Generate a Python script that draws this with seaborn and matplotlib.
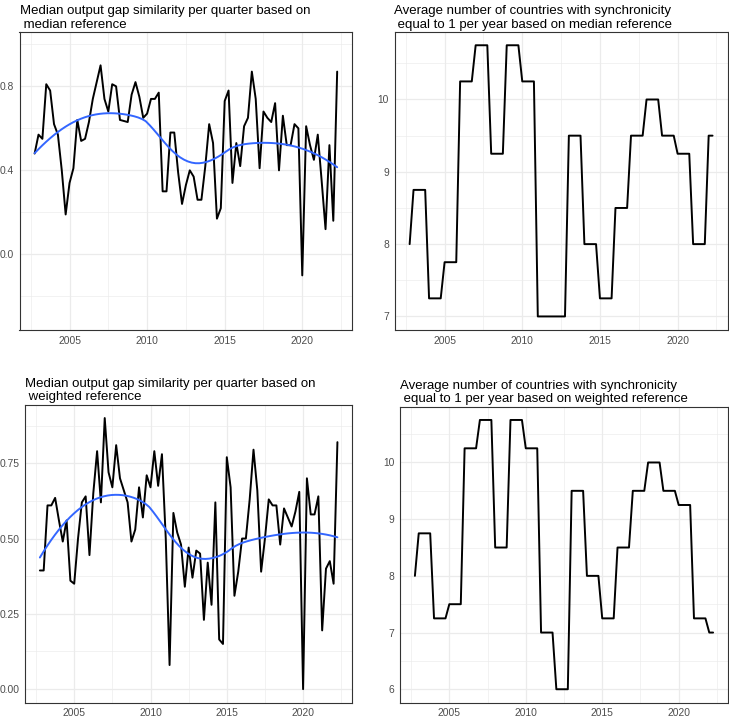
import numpy as np
import pandas as pd
import matplotlib
matplotlib.use("Agg")
import matplotlib.pyplot as plt
import seaborn as sns
from matplotlib.ticker import FormatStrFormatter

# quarterly data, 2002Q4 .. 2022Q2
quarters = pd.period_range("2002Q4", "2022Q2", freq="Q")
t = np.asarray(quarters.year + (quarters.quarter - 1) / 4, dtype=float)

og_median = [0.48, 0.57, 0.55, 0.81, 0.78, 0.62, 0.57, 0.40, 0.19, 0.34,
             0.41, 0.64, 0.54, 0.55, 0.63, 0.74, 0.82, 0.90, 0.74, 0.68,
             0.81, 0.80, 0.64, 0.635, 0.63, 0.76, 0.82, 0.75, 0.65, 0.67,
             0.74, 0.74, 0.77, 0.30, 0.30, 0.58, 0.58, 0.39, 0.24, 0.33,
             0.40, 0.37, 0.26, 0.26, 0.42, 0.62, 0.53, 0.17, 0.22, 0.73,
             0.78, 0.34, 0.53, 0.42, 0.61, 0.65, 0.87, 0.74, 0.41, 0.68,
             0.65, 0.63, 0.72, 0.40, 0.66, 0.52, 0.52, 0.62, 0.60, -0.10,
             0.61, 0.52, 0.45, 0.57, 0.35, 0.12, 0.52, 0.16, 0.87]

og_weighted = [0.394, 0.394, 0.61, 0.61, 0.635, 0.56, 0.49, 0.56, 0.36, 0.35,
               0.50, 0.62, 0.64, 0.445, 0.65, 0.79, 0.62, 0.90, 0.72, 0.67,
               0.81, 0.70, 0.66, 0.62, 0.49, 0.53, 0.67, 0.57, 0.71, 0.67,
               0.79, 0.675, 0.78, 0.50, 0.08, 0.585, 0.52, 0.48, 0.34, 0.47,
               0.37, 0.46, 0.45, 0.23, 0.42, 0.28, 0.62, 0.165, 0.15, 0.77,
               0.67, 0.31, 0.39, 0.50, 0.50, 0.63, 0.795, 0.66, 0.39, 0.50,
               0.63, 0.61, 0.61, 0.48, 0.60, 0.57, 0.54, 0.59, 0.655, 0.00,
               0.70, 0.58, 0.58, 0.64, 0.195, 0.40, 0.425, 0.35, 0.82]

# yearly averages (repeated for every quarter of the year)
years = list(range(2002, 2023))
sync_median = [8.0, 8.75, 7.25, 7.75, 10.25, 10.75, 9.25, 10.75, 10.25, 7.0, 7.0,
               9.5, 8.0, 7.25, 8.5, 9.5, 10.0, 9.5, 9.25, 8.0, 9.5]
sync_weighted = [8.0, 8.75, 7.25, 7.5, 10.25, 10.75, 8.5, 10.75, 10.25, 7.0, 6.0,
                 9.5, 8.0, 7.25, 8.5, 9.5, 10.0, 9.5, 9.25, 7.25, 7.0]

titles = ["Median output gap similarity per quarter based on\n median reference",
          "Average number of countries with synchronicity\n equal to 1 per year based on median reference",
          "Median output gap similarity per quarter based on\n weighted reference",
          "Average number of countries with synchronicity\n equal to 1 per year based on weighted reference"]


def loess(x, y, span=0.75, n_out=80):
    # local quadratic fit with tricube weights (like geom_smooth default)
    x = np.asarray(x, float)
    y = np.asarray(y, float)
    q = int(np.floor(len(x) * span))
    xs = np.linspace(x.min(), x.max(), n_out)
    ys = []
    for x0 in xs:
        d = np.abs(x - x0)
        h = np.sort(d)[q - 1]
        w = np.clip(1 - (d / h) ** 3, 0, None) ** 3
        X = np.vander(x - x0, 3)
        sw = np.sqrt(w)
        beta = np.linalg.lstsq(X * sw[:, None], y * sw, rcond=None)[0]
        ys.append(beta[-1])
    return xs, np.array(ys)


sns.set_theme(style="white")
plt.rcParams["font.family"] = ["Liberation Sans", "DejaVu Sans"]

fig = plt.figure(figsize=(7.29, 7.17), dpi=100)


def add_ax(l, t_, r, b):
    return fig.add_axes([l / 729, 1 - b / 717, (r - l) / 729, (b - t_) / 717])


def style(ax, title, ylim, yt, ymt, fmt):
    ax.set_facecolor("white")
    for s in ax.spines.values():
        s.set_color("#333333")
        s.set_linewidth(0.8)
    ax.set_xlim(2001.775, 2023.225)
    ax.set_ylim(*ylim)
    ax.set_xticks([2005, 2010, 2015, 2020])
    ax.set_xticks([2002.5, 2007.5, 2012.5, 2017.5, 2022.5], minor=True)
    ax.set_yticks(yt)
    ax.set_yticks(ymt, minor=True)
    ax.yaxis.set_major_formatter(FormatStrFormatter(fmt))
    ax.xaxis.set_major_formatter(FormatStrFormatter("%d"))
    ax.grid(which="major", color="#EBEBEB", lw=0.9)
    ax.grid(which="minor", color="#EBEBEB", lw=0.45)
    ax.set_axisbelow(True)
    ax.tick_params(which="minor", length=0)
    ax.tick_params(which="major", length=2.5, width=0.6, color="#333333",
                   labelsize=7.4, labelcolor="#4D4D4D", pad=1.5)
    ax.set_xlabel("")
    ax.set_ylabel("")
    ax.set_title(title, loc="left", fontsize=9.5, pad=3, color="black", linespacing=1.12)


q_year = pd.Series(quarters.year)

# top-left
ax1 = add_ax(19.5, 31.7, 352.3, 330)
sns.lineplot(x=t, y=og_median, ax=ax1, color="black", lw=1.4, estimator=None)
sx, sy = loess(t, og_median)
sns.lineplot(x=sx, y=sy, ax=ax1, color="#3366FF", lw=1.4, estimator=None)
style(ax1, titles[0], (-0.36, 1.06), [0.0, 0.4, 0.8], [-0.2, 0.2, 0.6, 1.0], "%.1f")

# top-right
ax2 = add_ax(394.5, 31.7, 727.7, 330)
sync_m_q = q_year.map(dict(zip(years, sync_median))).values
sns.lineplot(x=t, y=sync_m_q, ax=ax2, color="black", lw=1.4, estimator=None)
style(ax2, titles[1], (6.8125, 10.9375), [7, 8, 9, 10], [7.5, 8.5, 9.5, 10.5], "%d")

# bottom-left
ax3 = add_ax(25, 404.5, 352.3, 702.7)
sns.lineplot(x=t, y=og_weighted, ax=ax3, color="black", lw=1.4, estimator=None)
sx, sy = loess(t, og_weighted)
sns.lineplot(x=sx, y=sy, ax=ax3, color="#3366FF", lw=1.4, estimator=None)
style(ax3, titles[2], (-0.045, 0.945), [0.0, 0.25, 0.5, 0.75], [0.125, 0.375, 0.625, 0.875], "%.2f")

# bottom-right
ax4 = add_ax(400, 406.5, 728, 702.7)
sync_w_q = q_year.map(dict(zip(years, sync_weighted))).values
sns.lineplot(x=t, y=sync_w_q, ax=ax4, color="black", lw=1.4, estimator=None)
style(ax4, titles[3], (5.7625, 10.9875), [6, 7, 8, 9, 10], [6.5, 7.5, 8.5, 9.5, 10.5], "%d")

fig.savefig("out.png", dpi=100)
